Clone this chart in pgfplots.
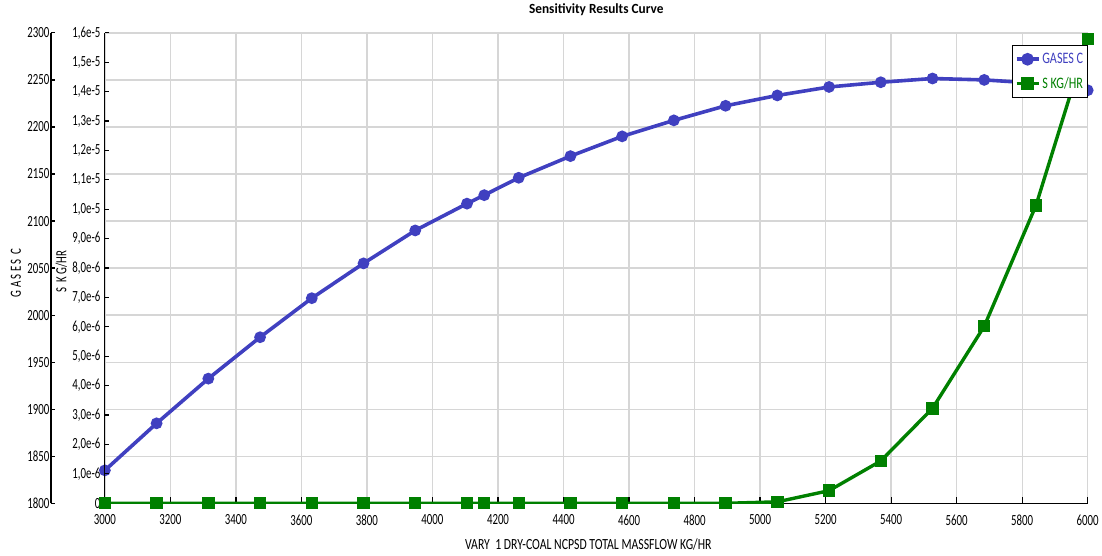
\documentclass[border=0pt]{standalone}
\usepackage{fontspec}
\setmainfont{Carlito}[FakeStretch=0.7]
\newfontfamily\labelfont{Carlito}[FakeStretch=0.76]
\newfontfamily\titlefont{Carlito}[FakeStretch=0.95]
\usepackage{pgfplots}
\pgfplotsset{compat=1.18}
\definecolor{gblue}{RGB}{64,64,192}
\definecolor{ggreen}{RGB}{0,128,0}
\definecolor{gridgray}{RGB}{214,214,214}
\begin{document}
\begin{tikzpicture}
\pgfplotsset{
  every axis/.append style={
    scale only axis, width=984pt, height=471pt,
    font=\fontsize{15.5}{17}\selectfont,
    /pgf/number format/assume math mode=true,
    /pgf/number format/1000 sep={},
    tick align=inside,
    ylabel style={font=\labelfont\fontsize{17}{19}\selectfont},
  },
}
% GASES C axis (offset to the left)
\begin{axis}[
  at={(-54pt,0pt)}, anchor=south west,
  width=10pt,
  xmin=0, xmax=1, ymin=1800, ymax=2300,
  axis x line=none, axis y line*=left,
  y axis line style={-, black, line width=1.2pt},
  ytick={1800,1850,...,2300},
  ytick style={black, line width=1.2pt},
  major tick length=4pt,
  yticklabel style={xshift=2pt},
  ylabel={G A S E S\ \ C},
  every axis y label/.style={at={(axis description cs:0,0.49)}, rotate=90, anchor=center, yshift=35pt},
]
\end{axis}
% main plot area: grid, x axis and GASES C
\begin{axis}[
  at={(0pt,0pt)}, anchor=south west,
  xmin=3000, xmax=6000, ymin=1800, ymax=2300,
  axis x line*=bottom, axis y line*=left,
  x axis line style={-, black, line width=1.2pt},
  y axis line style={draw=none},
  xtick={3000,3200,...,6000},
  ytick={1800,1850,...,2300},
  yticklabels={},
  ytick style={draw=none},
  xtick style={black, line width=1.2pt},
  xticklabel style={yshift=-8pt},
  major tick length=6pt,
  grid=major,
  major grid style={gridgray, line width=1.3pt},
  xlabel={\labelfont VARY\ \ 1 DRY-COAL NCPSD TOTAL MASSFLOW KG/HR},
  xlabel style={yshift=-6pt, xshift=-8pt},
  title={\titlefont\fontsize{14}{16}\selectfont\bfseries Sensitivity Results Curve},
  title style={at={(0.5,1)}, anchor=south, yshift=8pt},
]
\addplot[gblue, line width=3.6pt, mark=*, mark size=4pt, mark options={solid, fill=gblue}] coordinates {
(3000,1835) (3157.9,1885) (3315.8,1932.5) (3473.7,1976.5) (3631.6,2018)
(3789.5,2055) (3947.4,2090) (4105.3,2118.5) (4158,2127.5) (4263.2,2146)
(4421.1,2169) (4578.9,2190) (4736.8,2207) (4894.7,2222.5) (5052.6,2233.5)
(5210.5,2242.5) (5368.4,2247.5) (5526.3,2251.5) (5684.2,2250) (5842.1,2246.5)
(6000,2239)
};
\end{axis}
% S KG/HR axis
\begin{axis}[
  at={(0pt,0pt)}, anchor=south west,
  xmin=3000, xmax=6000, ymin=0, ymax=1.6e-5,
  axis x line=none, axis y line*=left,
  y axis line style={-, black, line width=1.2pt},
  scaled y ticks=false,
  ytick={0,1e-6,2e-6,3e-6,4e-6,5e-6,6e-6,7e-6,8e-6,9e-6,10e-6,11e-6,12e-6,13e-6,14e-6,15e-6,16e-6},
  yticklabels={0,{1,0e-6},{2,0e-6},{3,0e-6},{4,0e-6},{5,0e-6},{6,0e-6},{7,0e-6},{8,0e-6},{9,0e-6},{1,0e-5},{1,1e-5},{1,2e-5},{1,3e-5},{1,4e-5},{1,5e-5},{1,6e-5}},
  ytick style={black, line width=1.2pt},
  major tick length=4pt,
  yticklabel style={xshift=-1pt},
  ylabel={S\ \ K G/HR},
  every axis y label/.style={at={(axis description cs:0,0.493)}, rotate=90, anchor=center, yshift=43.5pt},
  legend style={at={(1,1)}, anchor=north east, yshift=-12pt, draw=black, line width=1pt, inner xsep=2pt, inner ysep=6pt, row sep=8pt, font=\labelfont\fontsize{16}{18}\selectfont},
  legend cell align=left,
  legend image code/.code={\draw[mark repeat=2, mark phase=2] plot coordinates {(0pt,0pt) (11pt,0pt) (22pt,0pt)};},
]
\addlegendimage{gblue, line width=3.6pt, mark=*, mark size=4.5pt, mark options={solid, fill=gblue}}
\addlegendentry{\textcolor{gblue}{GASES C}}
\addplot[ggreen, line width=3.4pt, mark=square*, mark size=4.5pt, mark options={solid, fill=ggreen}] coordinates {
(3000,0) (3157.9,0) (3315.8,0) (3473.7,0) (3631.6,0)
(3789.5,0) (3947.4,0) (4105.3,0) (4158,0) (4263.2,0)
(4421.1,0) (4578.9,0) (4736.8,0) (4894.7,0) (5052.6,5e-8)
(5210.5,4.3e-7) (5368.4,1.44e-6) (5526.3,3.23e-6) (5684.2,6.02e-6) (5842.1,1.013e-5)
(6000,1.58e-5)
};
\addlegendentry{\textcolor{ggreen}{S KG/HR}}
\end{axis}
\path[use as bounding box] (-105pt,-52pt) rectangle (997pt,503pt);
\end{tikzpicture}
\end{document}
